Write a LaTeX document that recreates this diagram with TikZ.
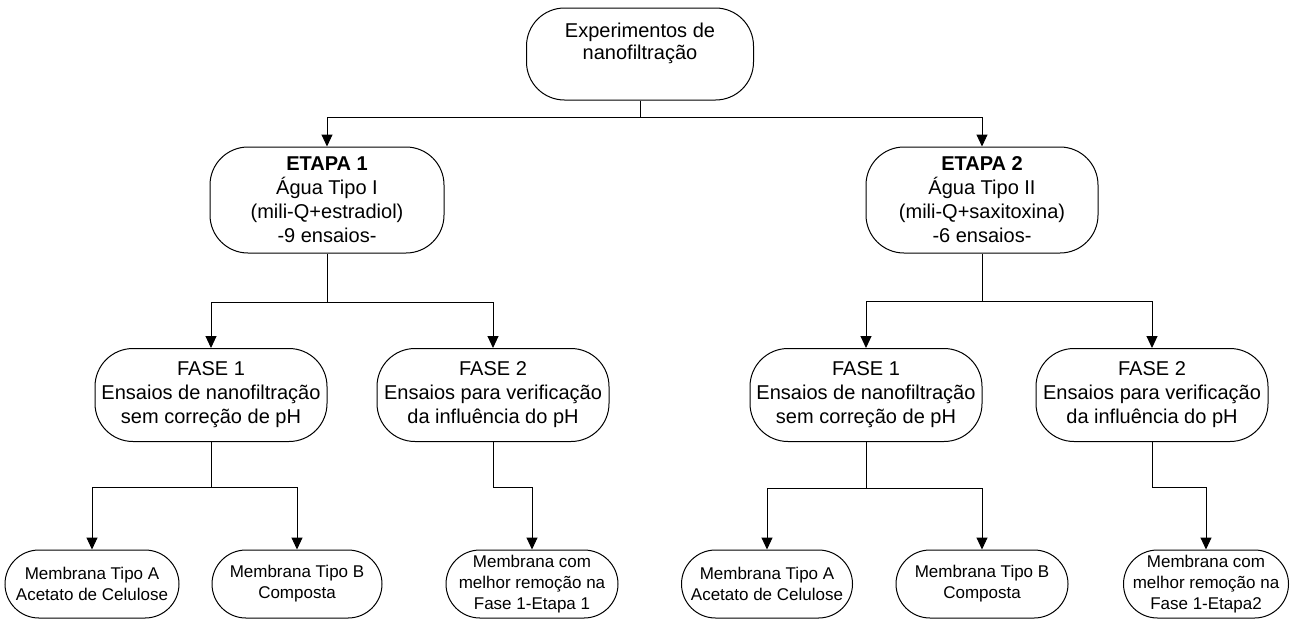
\documentclass[tikz,border=0pt]{standalone}
\usepackage{fontspec}
\setmainfont{Liberation Sans}
\usetikzlibrary{arrows.meta}
\begin{document}
\begin{tikzpicture}[x=1pt,y=-1pt,
  boxbase/.style={draw, line width=1pt, rounded corners=38pt, align=center, inner sep=0pt},
  bigbox/.style={boxbase, font=\fontsize{20}{24}\selectfont},
  smallbox/.style={boxbase, font=\fontsize{17}{21}\selectfont, rounded corners=34pt, minimum height=68pt},
  bigtext/.style={align=center, inner sep=0pt, font=\fontsize{20}{22}\selectfont},
  conn/.style={line width=1pt},
  arr/.style={conn, -{Triangle[length=12pt,width=11pt]}}
]
\useasboundingbox (0,0) rectangle (1300,619);

% top
\node[bigbox, minimum width=227pt, minimum height=92pt] (top) at (640,54) {};
\node[bigtext] (toptext) at (640,43) {Experimentos de\\nanofiltração};

% etapas
\node[bigbox, minimum width=234pt, minimum height=106pt] (e1) at (327,200)
  {\textbf{ETAPA 1}\\Água Tipo I\\(mili-Q+estradiol)\\-9 ensaios-};
\node[bigbox, minimum width=232pt, minimum height=106pt] (e2) at (982,200)
  {\textbf{ETAPA 2}\\Água Tipo II\\(mili-Q+saxitoxina)\\-6 ensaios-};

% fases
\node[bigbox, minimum width=232pt, minimum height=93pt] (f11) at (211,395)
  {FASE 1\\Ensaios de nanofiltração\\sem correção de pH};
\node[bigbox, minimum width=232pt, minimum height=93pt] (f12) at (493,395)
  {FASE 2\\Ensaios para verificação\\da influência do pH};
\node[bigbox, minimum width=232pt, minimum height=93pt] (f21) at (866,395)
  {FASE 1\\Ensaios de nanofiltração\\sem correção de pH};
\node[bigbox, minimum width=232pt, minimum height=93pt] (f22) at (1152,395)
  {FASE 2\\Ensaios para verificação\\da influência do pH};

% membranas
\node[smallbox, minimum width=174pt] (m1a) at (92,584) {Membrana Tipo A\\Acetato de Celulose};
\node[smallbox, minimum width=170pt] (m1b) at (297,584) {Membrana Tipo B\\Composta};
\node[smallbox, minimum width=172pt] (m1c) at (532,584) {Membrana com\\melhor remoção na\\Fase 1-Etapa 1};
\node[smallbox, minimum width=171pt] (m2a) at (767,584) {Membrana Tipo A\\Acetato de Celulose};
\node[smallbox, minimum width=172pt] (m2b) at (982,584) {Membrana Tipo B\\Composta};
\node[smallbox, minimum width=165pt] (m2c) at (1206,584) {Membrana com\\melhor remoção na\\Fase 1-Etapa2};

% junctions
\coordinate (j0) at (640,117);
\coordinate (j1) at (327,302);
\coordinate (j2) at (982,301);
\coordinate (j3) at (211,487);
\coordinate (j4) at (493,487);
\coordinate (j5) at (866,488);
\coordinate (j6) at (1152,487);

\draw[conn] (top.south) -- (j0);
\draw[arr] (j0) -| (e1.north);
\draw[arr] (j0) -| (e2.north);

\draw[conn] (e1.south) -- (j1);
\draw[arr] (j1) -| (f11.north);
\draw[arr] (j1) -| (f12.north);

\draw[conn] (e2.south) -- (j2);
\draw[arr] (j2) -| (f21.north);
\draw[arr] (j2) -| (f22.north);

\draw[conn] (f11.south) -- (j3);
\draw[arr] (j3) -| (m1a.north);
\draw[arr] (j3) -| (m1b.north);

\draw[conn] (f12.south) -- (j4);
\draw[arr] (j4) -| (m1c.north);

\draw[conn] (f21.south) -- (j5);
\draw[arr] (j5) -| (m2a.north);
\draw[arr] (j5) -| (m2b.north);

\draw[conn] (f22.south) -- (j6);
\draw[arr] (j6) -| (m2c.north);
\end{tikzpicture}
\end{document}
